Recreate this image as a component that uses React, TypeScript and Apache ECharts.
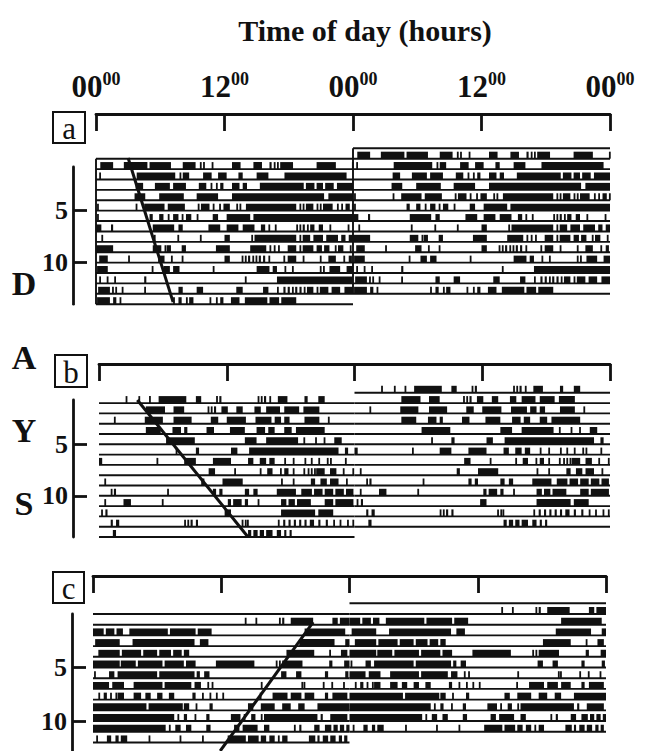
import React, { useEffect, useRef } from 'react';
import * as echarts from 'echarts';

const INK = '#111';
const SERIF = '"Liberation Serif", "Times New Roman", serif';

const titleText = 'Time of day (hours)';
const hourTickLabels = ['00', '12', '00', '12', '00'];
const minuteSuffix = '00';
const dayTicks = [5, 10];
const dayLetters = ['D', 'A', 'Y', 'S'];
const panelLetters = ['a', 'b', 'c'];

// Activity bouts per day, [start hour, end hour] (clock time 0-24)
const panelADays: number[][][] = [
  [[0.4,1.6],[2.6,4.8],[5.0,7.0],[8.1,9.3],[9.7,9.8],[10.0,10.1],[10.8,10.9],[12.7,13.5],[14.7,15.5],[16.2,16.4],[16.6,16.7],[16.9,17.0],[17.2,18.4],[20.6,22.4],[23.9,24.0]],
  [[0.3,0.4],[3.8,7.4],[7.8,7.9],[8.1,8.7],[10.0,10.8],[11.4,12.2],[13.3,13.7],[15.0,16.1],[17.6,23.4]],
  [[3.7,4.4],[5.5,6.9],[7.2,8.4],[9.6,10.3],[10.7,10.8],[11.2,11.3],[11.6,11.9],[12.7,13.4],[13.7,14.1],[15.3,19.4],[19.6,20.4],[20.6,21.2],[21.4,22.2],[22.5,24.0]],
  [[3.6,4.6],[5.9,8.2],[9.4,11.4],[12.7,21.3],[21.7,24.0]],
  [[0.1,0.2],[3.7,3.8],[4.5,6.4],[6.7,8.3],[9.5,9.6],[9.8,10.6],[10.9,11.0],[11.5,11.6],[11.9,12.5],[13.1,13.2],[13.4,13.5],[14.0,18.7],[19.0,19.1],[19.3,19.4],[19.6,20.3],[20.6,20.7],[20.9,21.0],[21.2,22.1],[22.5,22.6],[22.9,23.0],[23.3,23.7],[23.9,24.0]],
  [[0.1,0.2],[5.0,5.3],[5.9,6.3],[6.7,6.8],[7.2,7.7],[8.0,8.1],[8.4,8.9],[9.4,9.5],[10.9,11.4],[12.2,14.4],[14.7,24.0]],
  [[0.0,0.5],[1.4,1.6],[5.3,7.3],[7.7,8.1],[10.5,11.6],[12.2,13.3],[13.7,14.8],[15.4,15.8],[16.1,16.2],[16.7,16.8],[18.7,18.8],[19.0,19.1],[19.3,19.5],[19.7,19.8],[20.0,20.4],[20.8,21.2],[21.8,21.9],[23.5,23.6]],
  [[0.5,0.6],[5.4,5.5],[7.6,7.7],[9.7,9.8],[12.0,12.5],[14.5,14.6],[14.8,18.7],[19.0,19.1],[19.3,20.0],[20.3,21.2],[21.5,22.6],[22.9,23.3],[23.6,24.0]],
  [[0.0,1.6],[5.3,6.1],[6.4,6.5],[6.6,7.0],[8.0,8.4],[11.2,12.5],[14.4,15.9],[16.2,16.3],[16.6,16.7],[17.0,17.1],[17.9,18.7],[19.0,19.1],[19.3,20.3],[20.6,21.1],[21.3,21.8],[22.3,22.4],[22.6,23.1],[23.7,23.8]],
  [[0.3,1.1],[3.0,3.1],[5.8,6.4],[7.0,7.1],[8.0,8.1],[12.0,12.5],[13.6,13.7],[13.9,14.0],[14.2,14.4],[14.6,14.7],[14.9,15.0],[15.2,15.4],[15.6,15.8],[16.1,16.2],[17.5,17.6],[17.9,18.7],[19.3,19.4],[20.9,21.0],[21.7,22.4],[23.1,23.2],[23.6,23.9]],
  [[0.1,1.1],[5.2,5.3],[6.3,6.9],[7.2,7.8],[10.9,11.0],[15.0,16.2],[16.5,16.9],[17.6,17.7],[18.3,18.4],[20.9,21.0],[21.2,21.3],[21.8,22.8],[23.4,24.0]],
  [[0.3,0.4],[1.0,1.1],[1.7,1.8],[4.5,4.7],[13.9,14.0],[16.9,24.0]],
  [[0.2,1.3],[1.5,1.6],[1.8,1.9],[2.4,2.5],[4.5,4.6],[7.7,8.1],[9.4,10.0],[13.1,13.7],[15.6,16.1],[16.9,17.0],[17.5,17.7],[17.9,18.1],[18.3,18.4],[18.6,18.8],[19.0,19.2],[19.4,19.5],[19.7,20.3],[20.6,20.7],[20.9,21.7],[22.0,22.8],[23.2,24.0]],
  [[0.1,1.3],[1.6,1.9],[2.2,2.3],[7.2,7.3],[7.7,8.0],[8.4,8.5],[8.7,9.1],[10.6,10.7],[11.2,11.3],[11.6,11.9],[12.6,13.4],[13.9,16.0],[16.2,17.1],[17.3,18.7]],
];

const panelBDays: number[][][] = [
  [[2.5,2.6],[3.7,3.8],[4.7,4.8],[5.6,8.2],[9.1,9.6],[11.0,11.1],[11.3,11.5],[14.9,15.0],[15.2,15.3],[15.5,15.7],[16.0,16.1],[16.8,17.7],[19.3,19.6],[20.6,21.2]],
  [[4.4,6.2],[7.0,8.0],[10.2,10.3],[10.5,10.6],[10.8,11.0],[11.5,12.1],[12.9,13.5],[14.6,15.2],[15.7,17.0],[17.4,18.8],[19.2,20.7]],
  [[1.4,1.5],[4.3,6.0],[7.0,8.7],[10.5,11.2],[12.0,13.8],[14.7,16.2],[16.5,17.1],[17.4,17.9],[19.3,20.7],[21.5,21.6]],
  [[4.4,5.8],[6.9,7.7],[8.0,8.3],[10.1,10.8],[12.3,13.7],[14.8,15.6],[15.9,16.5],[17.4,18.1],[18.5,21.2]],
  [[6.3,9.0],[13.7,14.8],[15.7,18.7],[19.2,19.3],[20.3,20.4],[21.1,21.2],[22.1,22.8]],
  [[7.2,7.3],[9.1,9.4],[12.4,13.0],[14.1,22.5],[23.1,23.4]],
  [[0.0,0.3],[5.4,5.5],[8.0,9.1],[10.7,12.4],[14.0,14.5],[15.1,15.7],[16.0,16.5],[17.4,17.5],[18.2,18.3],[19.3,19.4],[19.9,20.0],[20.6,20.7],[21.4,21.5],[21.7,21.8],[23.1,23.2]],
  [[10.3,10.9],[12.7,12.8],[15.1,15.2],[15.8,16.3],[17.0,17.1],[17.4,17.8],[18.2,18.3],[19.2,19.3],[19.6,19.7],[19.9,20.0],[20.2,20.3],[20.4,21.2],[21.7,22.3],[22.9,23.0],[23.8,23.9]],
  [[0.5,0.6],[9.6,9.9],[11.6,13.5],[17.1,17.2],[18.2,18.3],[19.9,20.3],[20.8,21.4],[21.7,22.5],[23.2,23.3]],
  [[1.1,1.2],[1.4,1.6],[6.4,6.5],[10.7,11.0],[11.3,11.6],[13.7,14.1],[14.5,14.9],[16.7,18.5],[19.0,20.0],[20.2,21.0],[21.2,22.0],[22.2,23.0],[23.2,23.9]],
  [[0.5,0.6],[2.3,3.0],[5.9,6.0],[12.1,12.4],[12.6,13.4],[13.7,14.0],[14.9,15.0],[17.1,17.6],[17.8,18.4],[18.6,19.9],[21.2,22.0],[22.2,23.9]],
  [[0.2,0.3],[0.6,0.8],[11.8,12.4],[17.1,20.3],[20.6,22.0]],
  [[1.1,1.3],[1.6,1.9],[8.0,8.1],[8.3,8.4],[8.6,8.8],[9.1,9.3],[13.4,13.5],[13.7,13.8],[13.9,14.0],[16.8,16.9],[17.3,17.5],[17.8,18.0],[18.3,18.5],[18.8,19.0],[19.3,19.5],[19.8,20.2],[20.6,20.8],[21.3,21.5],[22.0,22.1],[22.6,22.7],[23.3,23.4],[23.8,23.9]],
  [[1.3,1.6],[14.0,14.3],[14.5,14.9],[15.1,15.5],[15.7,16.3],[16.7,17.1],[17.4,17.6],[17.9,18.1]],
];

const panelCDays: number[][][] = [
  [[14.2,14.3],[15.2,15.3],[17.4,17.5],[17.7,17.9],[18.5,20.6],[22.4,22.9],[23.1,24.0]],
  [[0.0,1.0],[1.2,2.0],[2.2,2.8],[3.4,7.0],[7.2,9.6],[9.8,11.1],[19.8,23.6]],
  [[0.2,2.5],[3.7,9.5],[10.0,10.8],[19.3,22.6],[23.6,24.0]],
  [[0.5,2.5],[2.7,4.5],[4.7,6.0],[6.2,7.3],[7.5,8.3],[8.5,9.0],[18.1,20.7],[22.1,22.2],[23.2,23.8]],
  [[0.0,2.5],[2.6,4.0],[4.2,6.5],[6.7,8.5],[8.7,9.6],[11.5,15.1],[17.1,17.2],[17.4,17.5],[17.7,19.6],[22.1,22.4],[23.5,24.0]],
  [[0.1,0.2],[1.5,2.0],[2.3,6.0],[6.2,9.5],[9.7,10.0],[10.4,10.9],[17.6,18.1],[19.0,19.5],[21.7,22.0],[23.6,23.9]],
  [[0.0,1.5],[1.8,2.9],[3.8,6.5],[6.7,9.2],[9.5,10.1],[10.7,10.8],[11.1,11.2],[15.7,15.8],[19.5,19.6],[19.7,19.8],[21.5,21.6],[22.3,22.4],[23.4,23.5]],
  [[0.5,0.6],[1.0,1.3],[1.6,1.7],[2.1,2.2],[2.3,2.9],[3.8,4.5],[4.9,5.4],[6.0,6.5],[7.1,7.6],[9.3,9.6],[10.2,10.3],[10.9,11.0],[11.5,11.6],[12.1,12.2],[15.6,15.7],[16.8,18.2],[18.5,19.5],[19.8,20.7],[21.7,22.0],[22.4,23.8]],
  [[0.0,5.0],[5.2,8.4],[8.5,9.0],[9.6,9.7],[10.9,11.2],[14.5,15.0],[15.7,17.0],[17.7,18.5],[19.2,19.8],[21.0,24.0]],
  [[0.0,7.6],[7.9,8.0],[8.5,8.8],[9.5,9.6],[10.6,10.9],[12.9,13.8],[14.1,14.2],[14.8,15.2],[15.7,15.8],[16.0,21.0],[21.3,21.5],[22.2,23.8]],
  [[0.0,6.8],[7.1,7.2],[7.7,8.2],[8.7,9.2],[10.6,11.0],[13.2,13.7],[14.0,15.4],[16.0,16.5],[18.8,18.9],[19.3,19.5],[20.7,21.2],[21.7,22.3],[22.5,22.9],[23.1,23.5],[23.7,24.0]],
  [[0.3,0.4],[1.3,1.7],[2.1,2.4],[2.6,3.2],[5.2,5.3],[8.1,8.2],[10.2,10.3],[12.6,14.3],[14.5,15.5],[15.7,16.2],[16.5,17.0],[17.3,17.4],[17.7,18.2],[20.2,20.8],[21.0,21.2],[21.5,22.0],[22.2,22.7],[23.0,23.3],[23.5,23.8]],
];

// Fitted activity-onset lines: [hour, day-row] end points
const onsetA = [[3.0, -0.06], [7.2, 13.8]];
const onsetB = [[3.6, 0.7], [14.0, 14.0]];
const onsetC = [[20.6, 0.75], [11.9, 12.8]];

const BAR_H = 7;

const panels = [
  { days: panelADays, onset: onsetA, left: 96, width: 514, top: 167, height: 137.2, yMin: 0.8, yMax: 14, xOffset: 53, yOffset: 23, topLines: true, frame: true, labels: true },
  { days: panelBDays, onset: onsetB, left: 99, width: 511, top: 400, height: 137, yMin: 0.7, yMax: 14, xOffset: 36, yOffset: 26, topLines: false, frame: false, labels: false },
  { days: panelCDays, onset: onsetC, left: 93, width: 513, top: 614, height: 137, yMin: 0, yMax: 12.8, xOffset: 38, yOffset: 21, topLines: true, frame: false, labels: false },
];

function segRender(params: any, api: any) {
  const a = api.coord([api.value(0), api.value(1)]);
  const b = api.coord([api.value(2), api.value(3)]);
  return { type: 'line', shape: { x1: a[0], y1: a[1], x2: b[0], y2: b[1] }, style: { stroke: INK, lineWidth: 1.9 } };
}

function boutRender(params: any, api: any) {
  const a = api.coord([api.value(0), api.value(2)]);
  const b = api.coord([api.value(1), api.value(2)]);
  const w = Math.max(b[0] - a[0], 1.8);
  return { type: 'rect', shape: { x: a[0], y: a[1] - BAR_H, width: w, height: BAR_H }, style: { fill: INK } };
}

function buildOption() {
  const grid: any[] = [];
  const xAxis: any[] = [];
  const yAxis: any[] = [];
  const series: any[] = [];
  panels.forEach((p, i) => {
    grid.push({ left: p.left, top: p.top, width: p.width, height: p.height });
    xAxis.push({
      type: 'value', gridIndex: i, min: 0, max: 48, interval: 12, position: 'top', offset: p.xOffset,
      axisLine: { show: true, onZero: false, lineStyle: { color: INK, width: 2.8 } },
      axisTick: { show: true, inside: true, length: 17, lineStyle: { color: INK, width: 2.8 } },
      splitLine: { show: false },
      axisLabel: p.labels ? {
        show: true, margin: 12, showMinLabel: true, showMaxLabel: true,
        formatter: (v: number) => `{big|${hourTickLabels[Math.round(v / 12)]}}{sup|${minuteSuffix}}`,
        rich: {
          big: { fontSize: 31, fontWeight: 'bold', fontFamily: SERIF, color: INK, lineHeight: 32, verticalAlign: 'bottom' },
          sup: { fontSize: 18, fontWeight: 'bold', fontFamily: SERIF, color: INK, verticalAlign: 'top' },
        },
      } : { show: false },
    });
    yAxis.push({
      type: 'value', gridIndex: i, min: p.yMin, max: p.yMax, inverse: true, position: 'left', offset: p.yOffset,
      axisLine: { show: true, onZero: false, lineStyle: { color: INK, width: 2.8 } },
      axisTick: { show: true, inside: true, length: 14, customValues: dayTicks, lineStyle: { color: INK, width: 2.8 } },
      axisLabel: { show: true, customValues: dayTicks, fontSize: 26, fontWeight: 'bold', fontFamily: SERIF, color: INK, margin: 5 },
      splitLine: { show: false },
    });
    const n = p.days.length;
    const lines: number[][] = [];
    for (let r = p.topLines ? 0 : 1; r <= n; r++) lines.push([0, r, 24, r]);
    for (let r = p.topLines ? -1 : 0; r <= n - 1; r++) lines.push([24, r, 48, r]);
    if (p.frame) { lines.push([0, 0, 0, n]); lines.push([24, -1, 24, n - 1]); }
    const bouts: number[][] = [];
    p.days.forEach((day, k) => {
      const d = k + 1;
      day.forEach(([s, e]) => {
        bouts.push([s, e, d]);
        bouts.push([s + 24, e + 24, d - 1]);
      });
    });
    series.push({ type: 'custom', xAxisIndex: i, yAxisIndex: i, data: lines, encode: { x: [0, 2], y: [1, 3] }, renderItem: segRender, silent: true, clip: false });
    series.push({ type: 'custom', xAxisIndex: i, yAxisIndex: i, data: bouts, encode: { x: [0, 1], y: 2 }, renderItem: boutRender, silent: true, clip: false });
    series.push({ type: 'line', xAxisIndex: i, yAxisIndex: i, data: p.onset, symbol: 'none', clip: false, silent: true, lineStyle: { color: INK, width: 3 } });
  });

  const letterY = [283, 357, 430, 503];
  const boxes = [
    { x: 53, y: 112, w: 32, h: 31 },
    { x: 55, y: 355, w: 32, h: 32 },
    { x: 53, y: 572, w: 31, h: 31 },
  ];
  const graphic: any[] = [
    { type: 'text', x: 365, y: 30, style: { text: titleText, fontSize: 30, fontWeight: 'bold', fontFamily: SERIF, fill: INK, align: 'center', verticalAlign: 'middle' } },
  ];
  dayLetters.forEach((t, k) => {
    graphic.push({ type: 'text', x: 24, y: letterY[k], style: { text: t, fontSize: 34, fontWeight: 'bold', fontFamily: SERIF, fill: INK, align: 'center', verticalAlign: 'middle' } });
  });
  boxes.forEach((b, k) => {
    graphic.push({ type: 'rect', shape: { x: b.x, y: b.y, width: b.w, height: b.h }, style: { fill: '#fff', stroke: INK, lineWidth: 2 } });
    graphic.push({ type: 'text', x: b.x + b.w / 2, y: b.y + b.h / 2 + 1, style: { text: panelLetters[k], fontSize: 31, fontFamily: SERIF, fill: INK, align: 'center', verticalAlign: 'middle' } });
  });

  return { animation: false, backgroundColor: '#fff', grid, xAxis, yAxis, series, graphic };
}

export default function App() {
  const ref = useRef<HTMLDivElement>(null);
  useEffect(() => {
    const chart = echarts.init(ref.current as HTMLDivElement, null, { renderer: 'svg' });
    chart.setOption(buildOption() as any);
    return () => chart.dispose();
  }, []);
  return <div ref={ref} style={{ position: 'fixed', left: 0, top: 0, width: 648, height: 751, background: '#fff' }} />;
}
